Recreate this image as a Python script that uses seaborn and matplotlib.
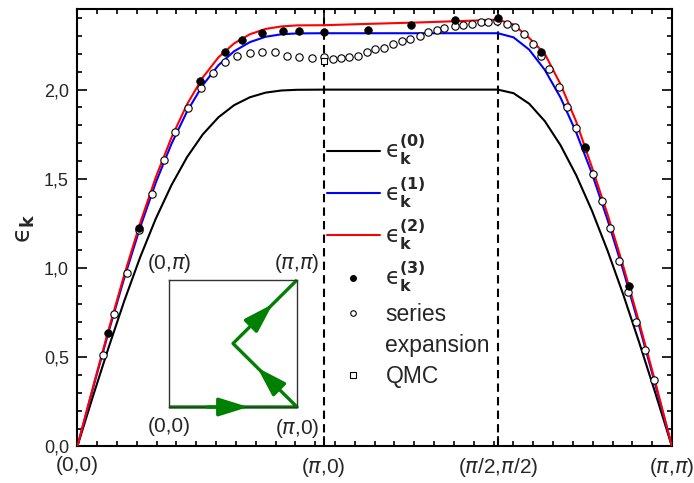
import numpy as np
import matplotlib
matplotlib.use("Agg")
import matplotlib.pyplot as plt
import seaborn as sns
from matplotlib.lines import Line2D
from matplotlib.ticker import MultipleLocator, FixedLocator, FixedFormatter

# path coordinate along (0,0) -> (pi,0) -> (pi/2,pi/2) -> (pi,pi)
x_line = [0.0, 0.2, 0.4, 0.6, 0.8, 1.0, 1.2, 1.4, 1.6, 1.8, 2.0, 2.2, 2.4, 2.6, 2.8, 3.142,
          3.6, 4.0, 4.4, 4.8, 5.2, 5.363,
          5.563, 5.763, 5.963, 6.163, 6.363, 6.563, 6.763, 6.963, 7.163, 7.363, 7.584]
eps0 = [0.0, 0.282, 0.556, 0.817, 1.059, 1.276, 1.464, 1.622, 1.749, 1.845, 1.913, 1.957, 1.983, 1.995, 1.999, 2.0,
        2.0, 2.0, 2.0, 2.0, 2.0, 2.0,
        1.980, 1.921, 1.823, 1.688, 1.520, 1.322, 1.097, 0.851, 0.587, 0.312, 0.0]
eps1 = [0.0, 0.327, 0.644, 0.946, 1.226, 1.478, 1.695, 1.878, 2.025, 2.137, 2.215, 2.266, 2.296, 2.310, 2.315, 2.316,
        2.316, 2.316, 2.316, 2.316, 2.316, 2.316,
        2.293, 2.224, 2.110, 1.955, 1.760, 1.531, 1.270, 0.986, 0.680, 0.361, 0.0]
eps2 = [0.0, 0.333, 0.656, 0.964, 1.250, 1.508, 1.730, 1.918, 2.068, 2.181, 2.259, 2.310, 2.340, 2.354, 2.360, 2.361,
        2.367, 2.372, 2.377, 2.383, 2.389, 2.392,
        2.365, 2.290, 2.200, 2.030, 1.820, 1.565, 1.300, 1.010, 0.700, 0.375, 0.0]

# third order points
x_eps3 = [0.388, 0.789, 1.569, 1.884, 2.097, 2.358, 2.620, 2.827, 3.144, 3.701, 4.252, 4.811, 5.363,
          5.918, 6.475, 7.036]
y_eps3 = [0.638, 1.226, 2.049, 2.213, 2.279, 2.320, 2.329, 2.327, 2.323, 2.336, 2.363, 2.390, 2.402,
          2.210, 1.679, 0.901]

# series expansion
x_series = [0.324, 0.472, 0.638, 0.791, 0.949, 1.110, 1.250, 1.416, 1.581, 1.731, 1.880, 2.041,
            2.199, 2.356, 2.522, 2.678, 2.827, 2.989, 3.150, 3.261, 3.367, 3.465, 3.580, 3.695,
            3.800, 3.911, 4.020, 4.137, 4.243, 4.371, 4.476, 4.584, 4.681, 4.817, 4.923, 5.034,
            5.149, 5.242, 5.356, 5.476, 5.582, 5.697, 5.808, 5.914, 6.022, 6.137, 6.242, 6.356,
            6.475, 6.577, 6.692, 6.798, 6.908, 7.019, 7.125, 7.240, 7.359]
y_series = [0.513, 0.741, 0.974, 1.214, 1.417, 1.604, 1.761, 1.897, 2.010, 2.095, 2.155, 2.191,
            2.206, 2.210, 2.210, 2.191, 2.185, 2.178, 2.182, 2.174, 2.178, 2.182, 2.191, 2.210,
            2.226, 2.235, 2.255, 2.271, 2.284, 2.303, 2.322, 2.335, 2.344, 2.357, 2.361, 2.367,
            2.379, 2.379, 2.383, 2.370, 2.353, 2.311, 2.256, 2.191, 2.114, 2.013, 1.905, 1.787,
            1.672, 1.526, 1.376, 1.223, 1.041, 0.868, 0.700, 0.541, 0.373]

# QMC
x_qmc = [3.140]
y_qmc = [2.163]

x_tick_labels = ['(0,0)', r'($\pi$,0)', r'($\pi$/2,$\pi$/2)', r'($\pi$,$\pi$)']
y_tick_values = [0.0, 0.5, 1.0, 1.5, 2.0]
y_tick_labels = ['0,0', '0,5', '1,0', '1,5', '2,0']
legend_labels = [r'$\mathrm{ϵ}_{\mathbf{k}}^{\mathbf{(0)}}$', r'$\mathrm{ϵ}_{\mathbf{k}}^{\mathbf{(1)}}$',
                 r'$\mathrm{ϵ}_{\mathbf{k}}^{\mathbf{(2)}}$', r'$\mathrm{ϵ}_{\mathbf{k}}^{\mathbf{(3)}}$',
                 'series', 'expansion', 'QMC']

# inset path in units of pi
path_kx = [0, 1, 0.5, 1]
path_ky = [0, 0, 0.5, 1]
corner_labels = ['(0,0)', r'($\pi$,0)', r'(0,$\pi$)', r'($\pi$,$\pi$)']

sns.set_theme(style="ticks")
plt.rcParams['font.family'] = ['Liberation Sans', 'DejaVu Sans']
plt.rcParams['xtick.direction'] = 'in'
plt.rcParams['ytick.direction'] = 'in'

x_ticks = [0, np.pi, np.pi + np.pi / np.sqrt(2), np.pi + np.sqrt(2) * np.pi]
x_max = x_ticks[-1]

fig = plt.figure(figsize=(6.94, 4.83), dpi=100)
ax = fig.add_axes([0.1114, 0.0756, 0.8569, 0.9051])

for xv in x_ticks[1:3]:
    ax.axvline(xv, color='black', lw=1.5, ls=(0, (4, 2.5)), zorder=1)

sns.lineplot(x=x_line, y=eps0, color='black', lw=1.5, sort=False, estimator=None, ax=ax, zorder=2)
sns.lineplot(x=x_line, y=eps1, color='#0000ff', lw=1.5, sort=False, estimator=None, ax=ax, zorder=2)
sns.lineplot(x=x_line, y=eps2, color='#ff0000', lw=1.5, sort=False, estimator=None, ax=ax, zorder=3)
sns.scatterplot(x=x_series, y=y_series, marker='o', s=28, facecolor='white', edgecolor='black',
                linewidth=0.8, ax=ax, zorder=4)
sns.scatterplot(x=x_eps3, y=y_eps3, marker='o', s=30, color='black', edgecolor='black',
                linewidth=0.5, ax=ax, zorder=5)
sns.scatterplot(x=x_qmc, y=y_qmc, marker='s', s=22, facecolor='white', edgecolor='black',
                linewidth=0.8, ax=ax, zorder=4)

ax.set_xlim(0, x_max)
ax.set_ylim(0, 2.45)
ax.xaxis.set_major_locator(FixedLocator(x_ticks))
ax.xaxis.set_major_formatter(FixedFormatter(x_tick_labels))
ax.xaxis.set_minor_locator(MultipleLocator(x_max / 30))
ax.yaxis.set_major_locator(FixedLocator(y_tick_values))
ax.yaxis.set_major_formatter(FixedFormatter(y_tick_labels))
ax.yaxis.set_minor_locator(MultipleLocator(0.1))
ax.tick_params(which='both', top=True, right=True, width=1.2, color='black')
ax.tick_params(which='major', length=7)
ax.tick_params(which='minor', length=3.5)
ax.tick_params(axis='x', which='major', labelsize=15, pad=7)
ax.tick_params(axis='y', which='major', labelsize=13, pad=6)
for sp in ax.spines.values():
    sp.set_linewidth(1.5)
    sp.set_color('black')
ax.set_xlabel('')
ax.set_ylabel(r'$\mathrm{ϵ}_{\mathbf{k}}$', fontsize=18, labelpad=5)

handles = [
    Line2D([], [], color='black', lw=1.5),
    Line2D([], [], color='#0000ff', lw=1.5),
    Line2D([], [], color='#ff0000', lw=1.5),
    Line2D([], [], ls='none', marker='o', color='black', ms=4),
    Line2D([], [], ls='none', marker='o', mfc='white', mec='black', ms=4, mew=0.8),
    Line2D([], [], ls='none'),
    Line2D([], [], ls='none', marker='s', mfc='white', mec='black', ms=4, mew=0.8),
]
ax.legend(handles, legend_labels, loc='upper left', bbox_to_anchor=(327 / 694, (483 - 133) / 483),
          bbox_transform=fig.transFigure, frameon=False, fontsize=16.5, handlelength=2.3,
          handletextpad=0.25, labelspacing=0.36, borderpad=0, borderaxespad=0)

# inset: path through the Brillouin zone
green = '#008000'
ax_in = fig.add_axes([169 / 694, (483 - 407) / 483, 128 / 694, 127 / 483])
ax_in.set_xlim(0, 1)
ax_in.set_ylim(0, 1)
ax_in.set_xticks([])
ax_in.set_yticks([])
ax_in.patch.set_alpha(0)
for sp in ax_in.spines.values():
    sp.set_linewidth(1.0)
    sp.set_color('#333333')
ax_in.plot(path_kx, path_ky, color=green, lw=2.4, clip_on=False, solid_capstyle='butt')
for i in range(3):
    p0 = np.array([path_kx[i], path_ky[i]])
    p1 = np.array([path_kx[i + 1], path_ky[i + 1]])
    ax_in.annotate('', xy=p0 + 0.62 * (p1 - p0), xytext=p0 + 0.3 * (p1 - p0),
                   arrowprops=dict(arrowstyle='-|>,head_length=0.9,head_width=0.28', color=green,
                                   lw=2.4, mutation_scale=20, shrinkA=0, shrinkB=0))
corner_pos = [(0, 0), (1, 0), (0, 1), (1, 1)]
for (cx, cy), lab in zip(corner_pos, corner_labels):
    ax_in.text(cx, cy + (0.04 if cy else -0.08), lab, ha='center', va='bottom' if cy else 'top',
               fontsize=15, transform=ax_in.transAxes)

fig.savefig('out.png', dpi=100)
